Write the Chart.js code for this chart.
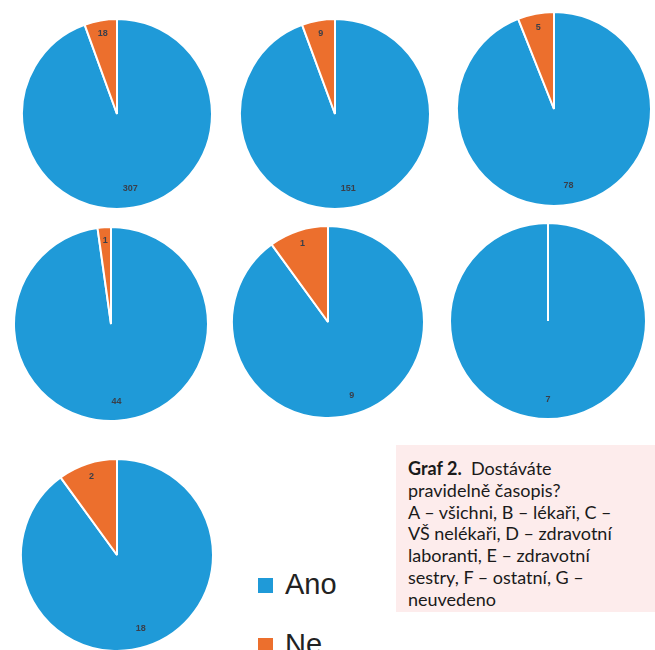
<!DOCTYPE html>
<html>
<head>
<meta charset="utf-8">
<script src="https://cdn.jsdelivr.net/npm/chart.js@4.4.1/dist/chart.umd.min.js"></script>
<style>
  html, body { margin: 0; padding: 0; background: #fff; }
  body { width: 655px; height: 650px; position: relative; overflow: hidden; font-family: Lato, sans-serif; }
  .pie { position: absolute; }
  .legend { position: absolute; left: 258px; top: 568px; font-family: "Liberation Sans", Arial, sans-serif; font-size: 29px; color: #222; }
  .legend div { height: 60px; display: flex; align-items: flex-start; }
  .legend span.box { display: inline-block; width: 15px; height: 15px; margin: 10px 12px 0 0; }
  .caption {
    position: absolute; left: 396px; top: 445px; width: 247px; height: 150px;
    background: #fdecec; padding: 13px 0 4px 12px;
    font-size: 18px; line-height: 21.8px; color: #1a1a1a; white-space: nowrap;
  }
  .caption b { font-weight: 700; }
</style>
</head>
<body>

<div class="caption"><b>Graf 2.</b>&nbsp; Dostáváte<br>pravidelně časopis?<br>A – všichni, B – lékaři, C –<br>VŠ nelékaři, D – zdravotní<br>laboranti, E – zdravotní<br>sestry, F – ostatní, G –<br>neuvedeno</div>
<div class="legend" id="legend"></div>

<script>
// Answers per respondent group (A..G)
const groups = ['A', 'B', 'C', 'D', 'E', 'F', 'G'];
const answerLabels = ['Ano', 'Ne'];
const anoValues = [307, 151, 78, 44, 9, 7, 18];
const neValues = [18, 9, 5, 1, 1, 0, 2];

const colors = ['#1f9ad8', '#ec6f2d'];

// where each pie sits on the page: centre x, centre y, radius
const layout = [
    [117, 114, 95],
    [335, 114, 95],
    [554, 109, 97],
    [111, 324, 97],
    [328, 322, 96],
    [548, 321, 98],
    [117, 555, 96]
];

// small value labels inside the slices, near the rim
const sliceLabels = {
    id: 'sliceLabels',
    afterDatasetsDraw(chart) {
        const ctx = chart.ctx;
        const meta = chart.getDatasetMeta(0);
        const values = chart.data.datasets[0].data;
        ctx.save();
        ctx.font = 'bold 9px "Liberation Sans", Arial, sans-serif';
        ctx.fillStyle = '#3a3f4a';
        ctx.textAlign = 'center';
        ctx.textBaseline = 'middle';
        meta.data.forEach((arc, i) => {
            if (!values[i]) return;
            const p = arc.getProps(['x', 'y', 'startAngle', 'endAngle', 'outerRadius'], true);
            const mid = (p.startAngle + p.endAngle) / 2;
            const d = p.outerRadius * (i === 0 ? 0.8 : 0.86);
            ctx.fillText(String(values[i]), p.x + Math.cos(mid) * d, p.y + Math.sin(mid) * d);
        });
        ctx.restore();
    }
};

groups.forEach((g, i) => {
    const [cx, cy, r] = layout[i];
    const size = 2 * r + 2;
    const canvas = document.createElement('canvas');
    canvas.className = 'pie';
    canvas.width = size;
    canvas.height = size;
    canvas.style.left = (cx - size / 2) + 'px';
    canvas.style.top = (cy - size / 2) + 'px';
    canvas.style.width = size + 'px';
    canvas.style.height = size + 'px';
    document.body.appendChild(canvas);

    new Chart(canvas, {
        type: 'pie',
        data: {
            labels: answerLabels,
            datasets: [{
                data: [anoValues[i], neValues[i]],
                backgroundColor: colors,
                borderColor: '#ffffff',
                borderWidth: 2
            }]
        },
        options: {
            responsive: false,
            animation: false,
            layout: { padding: 0 },
            plugins: {
                legend: { display: false },
                tooltip: { enabled: false }
            }
        },
        plugins: [sliceLabels]
    });
});

// legend entries
const legend = document.getElementById('legend');
answerLabels.forEach((name, i) => {
    const row = document.createElement('div');
    row.innerHTML = '<span class="box" style="background:' + colors[i] + '"></span>' + name;
    legend.appendChild(row);
});
</script>
</body>
</html>
